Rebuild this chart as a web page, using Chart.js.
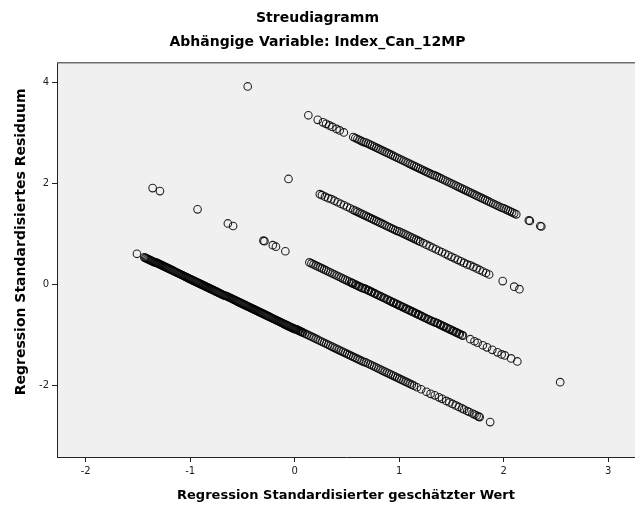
<!DOCTYPE html>
<html>
<head>
<meta charset="utf-8">
<script src="https://cdn.jsdelivr.net/npm/chart.js@4.4.1/dist/chart.umd.min.js"></script>
<style>
html,body{margin:0;padding:0;background:#ffffff;}
#wrap{width:635px;height:507px;}
</style>
</head>
<body>
<div id="wrap"><canvas id="c" width="635" height="507"></canvas></div>
<script>
// ---------- texts ----------
const chartTitle = 'Streudiagramm';
const chartSubtitle = 'Abhängige Variable: Index_Can_12MP';
const xAxisTitle = 'Regression Standardisierter geschätzter Wert';
const yAxisTitle = 'Regression Standardisiertes Residuum';

// ---------- tick labels ----------
const xTicks = [-2, -1, 0, 1, 2, 3];
const yTicks = [-2, 0, 2, 4];

// ---------- band 1 (lowest band) : predicted (x) / residual (y) ----------
const band1X = [
-1.51,
-1.44,-1.43,-1.42,-1.41,-1.40,-1.39,-1.38,-1.37,-1.36,-1.35,
-1.34,-1.33,-1.32,-1.31,-1.30,-1.29,-1.28,-1.27,-1.26,-1.25,
-1.24,-1.23,-1.22,-1.21,-1.20,-1.19,-1.18,-1.17,-1.16,-1.15,
-1.14,-1.13,-1.12,-1.11,-1.10,-1.09,-1.08,-1.07,-1.06,-1.05,
-1.04,-1.03,-1.02,-1.01,-1.00,-0.99,-0.98,-0.97,-0.96,-0.95,
-0.94,-0.93,-0.92,-0.91,-0.90,-0.89,-0.88,-0.87,-0.86,-0.85,
-0.84,-0.83,-0.82,-0.81,-0.80,-0.79,-0.78,-0.77,-0.76,-0.75,
-0.74,-0.73,-0.72,-0.71,-0.70,-0.69,-0.68,-0.67,-0.66,-0.65,
-0.64,-0.63,-0.62,-0.61,-0.60,-0.59,-0.58,-0.57,-0.56,-0.55,
-0.54,-0.53,-0.52,-0.51,-0.50,-0.49,-0.48,-0.47,-0.46,-0.45,
-0.44,-0.43,-0.42,-0.41,-0.40,-0.39,-0.38,-0.37,-0.36,-0.35,
-0.34,-0.33,-0.32,-0.31,-0.30,-0.29,-0.28,-0.27,-0.26,-0.25,
-0.24,-0.23,-0.22,-0.21,-0.20,-0.19,-0.18,-0.17,-0.16,-0.15,
-0.14,-0.13,-0.12,-0.11,-0.10,-0.09,-0.08,-0.07,-0.06,-0.05,
-0.04,-0.03,-0.02,-0.01,0.00,0.01,0.02,0.03,0.04,0.05,
0.06,0.07,0.08,
0.10,0.12,0.14,0.16,0.18,0.20,0.22,0.24,0.26,0.28,
0.30,0.32,0.34,0.36,0.38,0.40,0.42,0.44,0.46,0.48,
0.50,0.52,0.54,0.56,0.58,0.60,0.62,0.64,0.66,0.68,
0.70,0.72,0.74,0.76,0.78,0.80,0.82,0.84,0.86,0.88,
0.90,0.92,0.94,0.96,0.98,1.00,1.02,1.04,1.06,1.08,
1.10,1.12,1.14,
1.17,1.21,1.26,1.30,1.34,1.38,1.41,1.45,1.48,1.51,
1.54,1.57,1.60,1.62,1.65,1.67,1.70,1.72,1.74,1.76,
1.77,1.87
];
const band1Y = [
0.61,
0.54,0.53,0.52,0.51,0.50,0.49,0.48,0.47,0.46,0.45,
0.44,0.44,0.43,0.42,0.41,0.40,0.39,0.38,0.37,0.36,
0.35,0.34,0.33,0.32,0.31,0.30,0.29,0.28,0.27,0.26,
0.25,0.24,0.23,0.22,0.21,0.20,0.19,0.18,0.17,0.16,
0.15,0.14,0.13,0.12,0.11,0.10,0.09,0.08,0.07,0.06,
0.05,0.04,0.03,0.02,0.01,0.00,-0.01,-0.02,-0.03,-0.04,
-0.05,-0.06,-0.07,-0.08,-0.09,-0.10,-0.11,-0.12,-0.13,-0.14,
-0.15,-0.16,-0.17,-0.18,-0.19,-0.20,-0.21,-0.22,-0.22,-0.23,
-0.24,-0.25,-0.26,-0.27,-0.28,-0.29,-0.30,-0.31,-0.32,-0.33,
-0.34,-0.35,-0.36,-0.37,-0.38,-0.39,-0.40,-0.41,-0.42,-0.43,
-0.44,-0.45,-0.46,-0.47,-0.48,-0.49,-0.50,-0.51,-0.52,-0.53,
-0.54,-0.55,-0.56,-0.57,-0.58,-0.59,-0.60,-0.61,-0.62,-0.63,
-0.64,-0.65,-0.66,-0.67,-0.68,-0.69,-0.70,-0.71,-0.72,-0.73,
-0.74,-0.75,-0.76,-0.77,-0.78,-0.79,-0.80,-0.81,-0.82,-0.83,
-0.84,-0.85,-0.86,-0.87,-0.88,-0.88,-0.89,-0.90,-0.91,-0.92,
-0.93,-0.94,-0.95,
-0.97,-0.99,-1.01,-1.03,-1.05,-1.07,-1.09,-1.11,-1.13,-1.15,
-1.17,-1.19,-1.21,-1.23,-1.25,-1.27,-1.29,-1.31,-1.33,-1.35,
-1.37,-1.39,-1.41,-1.43,-1.45,-1.47,-1.49,-1.51,-1.53,-1.54,
-1.56,-1.58,-1.60,-1.62,-1.64,-1.66,-1.68,-1.70,-1.72,-1.74,
-1.76,-1.78,-1.80,-1.82,-1.84,-1.86,-1.88,-1.90,-1.92,-1.94,
-1.96,-1.98,-2.00,
-2.03,-2.07,-2.12,-2.16,-2.19,-2.23,-2.26,-2.30,-2.33,-2.36,
-2.39,-2.42,-2.45,-2.47,-2.50,-2.52,-2.55,-2.57,-2.59,-2.61,
-2.62,-2.72
];

// ---------- band 2 ----------
const band2X = [
-1.36,-1.29,-0.93,-0.64,-0.59,-0.30,-0.29,-0.21,-0.18,-0.09,
0.14,0.16,0.18,0.20,0.22,0.24,0.26,0.28,0.30,0.32,
0.34,0.36,0.38,0.40,0.42,0.44,0.46,0.48,0.50,0.52,0.54,
0.55,0.56,0.58,0.59,0.61,0.62,0.64,0.65,0.67,0.68,
0.70,0.71,0.73,0.74,0.76,0.77,0.79,0.80,0.82,0.83,
0.85,0.86,0.88,0.89,0.91,0.92,0.94,0.95,0.97,0.98,
1.00,1.01,1.03,1.04,1.06,1.07,1.09,1.10,1.12,1.13,
1.15,1.16,1.18,1.19,1.21,1.22,1.24,1.25,1.27,1.28,
1.30,1.31,1.33,1.34,1.36,1.37,1.39,1.40,1.42,1.43,
1.45,1.46,1.48,1.49,1.51,1.52,1.54,1.55,1.57,1.58,
1.60,1.61,
1.68,1.72,1.75,1.80,1.84,1.89,1.94,1.98,2.01,2.07,2.13,
2.54
];
const band2Y = [
1.91,1.85,1.49,1.21,1.16,0.87,0.86,0.78,0.75,0.66,
0.44,0.42,0.40,0.38,0.36,0.34,0.32,0.30,0.28,0.26,
0.24,0.22,0.20,0.18,0.16,0.14,0.12,0.10,0.08,0.06,0.04,
0.03,0.02,0.00,-0.01,-0.03,-0.04,-0.06,-0.07,-0.08,-0.09,
-0.11,-0.12,-0.14,-0.15,-0.17,-0.18,-0.20,-0.21,-0.23,-0.24,
-0.26,-0.27,-0.29,-0.30,-0.32,-0.33,-0.35,-0.36,-0.38,-0.39,
-0.41,-0.42,-0.44,-0.45,-0.47,-0.48,-0.50,-0.51,-0.53,-0.54,
-0.56,-0.57,-0.59,-0.60,-0.62,-0.63,-0.65,-0.66,-0.68,-0.69,
-0.71,-0.72,-0.74,-0.74,-0.76,-0.77,-0.79,-0.80,-0.82,-0.83,
-0.85,-0.86,-0.88,-0.89,-0.91,-0.92,-0.94,-0.95,-0.97,-0.98,
-1.00,-1.01,
-1.08,-1.12,-1.15,-1.20,-1.24,-1.29,-1.34,-1.38,-1.40,-1.46,-1.52,
-1.93
];

// ---------- band 3 ----------
const band3X = [
-0.06,
0.24,0.26,0.29,0.32,0.35,0.38,0.41,0.44,0.47,0.50,0.53,
0.56,0.58,0.60,0.62,0.64,0.66,0.68,0.70,0.72,0.74,
0.76,0.78,0.80,0.82,0.84,0.86,0.88,0.90,0.92,0.94,
0.96,0.98,1.00,1.02,1.04,1.06,1.08,1.10,1.12,1.14,
1.16,1.18,1.20,
1.23,1.26,1.29,1.32,1.35,1.38,1.41,1.44,1.47,1.50,
1.53,1.56,1.59,1.62,1.65,1.68,1.71,1.74,1.77,1.80,
1.83,1.86,1.99,2.10,2.15
];
const band3Y = [
2.09,
1.79,1.77,1.74,1.71,1.69,1.66,1.63,1.60,1.57,1.54,1.51,
1.48,1.46,1.44,1.42,1.40,1.38,1.36,1.34,1.32,1.30,
1.28,1.26,1.24,1.22,1.20,1.18,1.16,1.14,1.12,1.10,
1.08,1.06,1.05,1.03,1.01,0.99,0.97,0.95,0.93,0.91,
0.89,0.87,0.85,
0.82,0.79,0.76,0.73,0.70,0.67,0.64,0.61,0.58,0.55,
0.52,0.49,0.46,0.43,0.40,0.38,0.35,0.32,0.29,0.26,
0.23,0.20,0.07,-0.04,-0.09
];

// ---------- band 4 (highest band) ----------
const band4X = [
-0.45,
0.13,0.22,0.27,0.30,0.33,0.36,0.40,0.43,0.47,
0.56,0.58,0.60,0.62,0.64,0.66,0.68,0.70,0.72,0.74,
0.76,0.78,0.80,0.82,0.84,0.86,0.88,0.90,0.92,0.94,
0.96,0.98,1.00,1.02,1.04,1.06,1.08,1.10,1.12,1.14,
1.16,1.18,1.20,1.22,1.24,1.26,1.28,1.30,1.32,1.34,
1.36,1.38,1.40,1.42,1.44,1.46,1.48,1.50,1.52,1.54,
1.56,1.58,1.60,1.62,1.64,1.66,1.68,1.70,1.72,1.74,
1.76,1.78,1.80,1.82,1.84,1.86,1.88,1.90,1.92,1.94,
1.96,1.98,2.00,2.02,2.04,2.06,2.08,2.10,2.12,
2.24,2.25,2.35,2.36
];
const band4Y = [
3.92,
3.35,3.26,3.21,3.18,3.15,3.12,3.08,3.05,3.01,
2.92,2.90,2.88,2.86,2.84,2.82,2.81,2.79,2.77,2.75,
2.73,2.71,2.69,2.67,2.65,2.63,2.61,2.59,2.57,2.55,
2.53,2.51,2.49,2.47,2.45,2.43,2.41,2.39,2.37,2.35,
2.33,2.31,2.29,2.27,2.25,2.23,2.21,2.19,2.17,2.16,
2.14,2.12,2.10,2.08,2.06,2.04,2.02,2.00,1.98,1.96,
1.94,1.92,1.90,1.88,1.86,1.84,1.82,1.80,1.78,1.76,
1.74,1.72,1.70,1.68,1.66,1.64,1.62,1.60,1.58,1.56,
1.54,1.52,1.51,1.49,1.47,1.45,1.43,1.41,1.39,
1.27,1.26,1.16,1.15
];

// ---------- build ----------
const FONT = '"DejaVu Sans", "Liberation Sans", sans-serif';
function zip(xs, ys){ return xs.map((x,i)=>({x:x, y:ys[i]})); }
function band(xs, ys){
  return {
    data: zip(xs, ys),
    showLine: false,
    pointStyle: 'circle',
    pointRadius: 3.8,
    pointHoverRadius: 3.8,
    borderWidth: 1.1,
    pointBorderWidth: 1.1,
    borderColor: 'rgba(0,0,0,0.85)',
    pointBorderColor: 'rgba(0,0,0,0.85)',
    backgroundColor: 'rgba(0,0,0,0)',
    pointBackgroundColor: 'rgba(0,0,0,0)'
  };
}

const plotBg = {
  id: 'plotBg',
  beforeDraw(chart){
    const a = chart.chartArea, ctx = chart.ctx;
    ctx.save();
    ctx.fillStyle = '#f0f0f0';
    ctx.fillRect(a.left, a.top, a.right - a.left, a.bottom - a.top);
    ctx.restore();
  },
  afterDraw(chart){
    const a = chart.chartArea, ctx = chart.ctx;
    ctx.save();
    ctx.strokeStyle = '#6e6e6e';
    ctx.lineWidth = 1.5;
    ctx.beginPath();
    ctx.moveTo(a.left, a.top + 0.5);
    ctx.lineTo(a.right, a.top + 0.5);
    ctx.stroke();
    // rotated y axis title
    ctx.translate(21, a.top + (a.bottom - a.top) * 0.455);
    ctx.rotate(-Math.PI / 2);
    ctx.font = 'bold 14px ' + FONT;
    ctx.fillStyle = '#000';
    ctx.textAlign = 'center';
    ctx.textBaseline = 'middle';
    ctx.fillText(yAxisTitle, 0, 0);
    ctx.restore();
  }
};

new Chart(document.getElementById('c'), {
  type: 'scatter',
  data: {
    datasets: [
      band(band1X, band1Y),
      band(band2X, band2Y),
      band(band3X, band3Y),
      band(band4X, band4Y)
    ]
  },
  options: {
    responsive: false,
    animation: false,
    devicePixelRatio: 1,
    layout: { autoPadding: false, padding: { left: 0, right: 0, top: 0, bottom: 0 } },
    plugins: {
      legend: { display: false },
      tooltip: { enabled: false },
      title: {
        display: true, text: chartTitle, color: '#000',
        font: { family: FONT, size: 14, weight: 'bold' },
        padding: { top: 9.5, bottom: 8 }
      },
      subtitle: {
        display: true, text: chartSubtitle, color: '#000',
        font: { family: FONT, size: 14, weight: 'bold' },
        padding: { top: 0, bottom: 11.1 }
      }
    },
    scales: {
      x: {
        type: 'linear', position: 'bottom',
        min: -2.275, max: 3.256,
        afterBuildTicks: s => { s.ticks = xTicks.map(v => ({ value: v })); },
        afterFit: s => { s.height = 50; },
        ticks: { color: '#222', font: { family: FONT, size: 10 }, padding: 3, maxRotation: 0 },
        grid: { display: true, drawOnChartArea: false, drawTicks: true, tickLength: 5, color: '#222', lineWidth: 1 },
        border: { display: true, color: '#222', width: 1 },
        title: {
          display: true, text: xAxisTitle, color: '#000',
          font: { family: FONT, size: 13, weight: 'bold' },
          padding: { top: 4, bottom: 4 }
        }
      },
      y: {
        type: 'linear', position: 'left',
        min: -3.41, max: 4.40,
        afterBuildTicks: s => { s.ticks = yTicks.map(v => ({ value: v })); },
        afterFit: s => { s.width = 57; },
        ticks: { color: '#222', font: { family: FONT, size: 10 }, padding: 3 },
        grid: { display: true, drawOnChartArea: false, drawTicks: true, tickLength: 5, color: '#222', lineWidth: 1 },
        border: { display: true, color: '#222', width: 1 },
        title: { display: false }
      }
    }
  },
  plugins: [plotBg]
});
</script>
</body>
</html>
